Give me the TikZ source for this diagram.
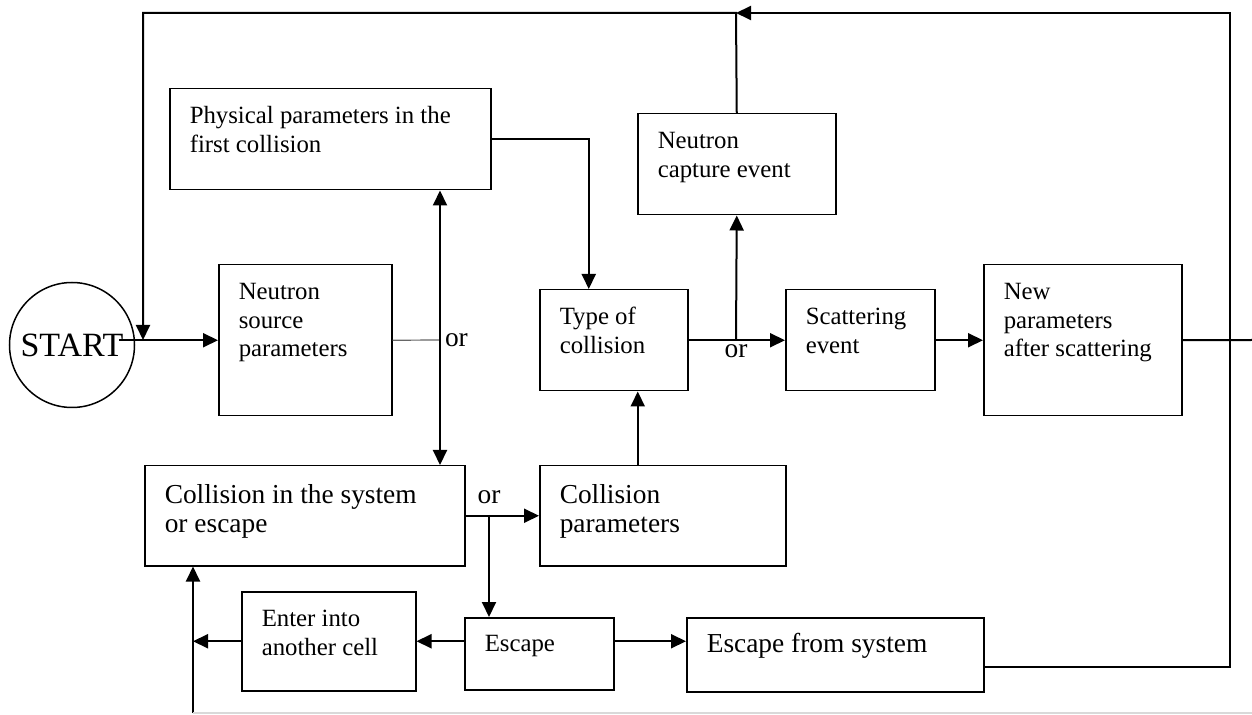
\documentclass[tikz,border=0pt]{standalone}
\usepackage{fontspec}
\setmainfont{Liberation Serif}
\usetikzlibrary{positioning,arrows.meta}

% text block that fills a box, first baseline fixed from the top
\newcommand{\blktext}[4][17.5pt]{\parbox[c][#3][t]{#2}{\rule{0pt}{#1}#4}}

\tikzset{
  blk/.style={draw, line width=0.75pt, anchor=north west, inner xsep=10pt, inner ysep=0pt,
    font=\fontsize{12.4}{14.3}\selectfont},
  bigblk/.style={blk, font=\fontsize{13.7}{14.5}\selectfont},
  orlab/.style={font=\fontsize{13.7}{15}\selectfont, inner sep=2pt},
}

\begin{document}
\begin{tikzpicture}[x=0.5pt, y=-0.5pt, line width=1pt, >={Triangle[length=7.5pt,width=7pt]}]
  \useasboundingbox (0,0) rectangle (1252,715);

  % blocks
  \node[circle, draw, line width=0.75pt, minimum size=62.5pt, inner sep=0pt,
    font=\fontsize{17}{19}\selectfont] (start) at (72,345) {START};
  \node[blk] (phys) at (169,88) {\blktext{140.5pt}{50.5pt}{Physical parameters in the\\first collision}};
  \node[blk] (src) at (218,264) {\blktext{66.5pt}{75.5pt}{Neutron\\source\\parameters}};
  \node[bigblk] (coll) at (144,465) {\blktext[19pt]{140pt}{50pt}{Collision in the system\\or escape}};
  \node[blk] (type) at (539,289) {\blktext{54pt}{50.5pt}{Type of\\collision}};
  \node[blk] (capt) at (637,113) {\blktext{79pt}{50.5pt}{Neutron\\capture event}};
  \node[blk] (scat) at (785,289) {\blktext{54.5pt}{50.5pt}{Scattering\\event}};
  \node[blk] (newp) at (983,264) {\blktext{79pt}{75.5pt}{New\\parameters\\after scattering}};
  \node[bigblk] (cpar) at (539,465) {\blktext[19pt]{103pt}{50pt}{Collision\\parameters}};
  \node[blk] (esc) at (464,617) {\blktext[17pt]{54.5pt}{36pt}{Escape}};
  \node[blk] (enter) at (241,591) {\blktext{67pt}{49.5pt}{Enter into\\another cell}};
  \node[bigblk] (efs) at (686,617) {\blktext{128.5pt}{37pt}{Escape from system}};

  % junctions
  \coordinate (vx) at (440,340);
  \coordinate (jc) at (736,340);
  \coordinate (jb) at (489,515);
  \coordinate (jtop) at (736,13);
  \coordinate (rtop) at (1230,13);
  \coordinate (jstart) at (143,340);
  \coordinate (jl) at (193,642);
  \coordinate (bl) at (193,713);
  \coordinate (redge) at (1252,340);
  \coordinate (tin) at ([xshift=12pt]type.south);
  \coordinate (sout) at ([xshift=-8pt]start.east);

  % upper row
  \draw[->] (sout |- src.west) -- (src.west);
  \draw[black!60, line width=0.6pt] (src.east) -- (vx);
  \node[orlab, right] (or1) at (vx) {or};
  \draw[<->] (phys.south -| vx) -- (coll.north -| vx);
  \draw[->] (phys.east) -| ([xshift=-12.5pt]type.north);
  \draw[->] (type.east) -- (scat.west);
  \draw[->] (jc) -- (capt.south);
  \node[orlab, below] (or2) at (jc) {or};
  \draw[->] (scat.east) -- (newp.west);
  \draw (newp.east) -- (redge);

  % loops back to start
  \draw[->] (capt.north) -- (jtop) -| (jstart);
  \draw[->] ([yshift=-6pt]efs.east) -| (rtop) -- (jtop);

  % lower rows
  \draw[->] (coll.east) -- (cpar.west);
  \node[orlab, above=3pt] (or3) at (jb) {or};
  \draw[->] (jb) -- (jb |- esc.north);
  \draw[->] (tin |- cpar.north) -- (tin);
  \draw[->] (esc.west |- enter.east) -- (enter.east);
  \draw[->] (enter.west) -- (enter.west -| jl);
  \draw[->] (esc.east |- enter.east) -- (efs.west |- enter.east);
  \draw[->] (bl) -- (bl |- coll.south);
  \draw[black!15, line width=0.6pt] (bl) -- (bl -| redge);
\end{tikzpicture}
\end{document}
